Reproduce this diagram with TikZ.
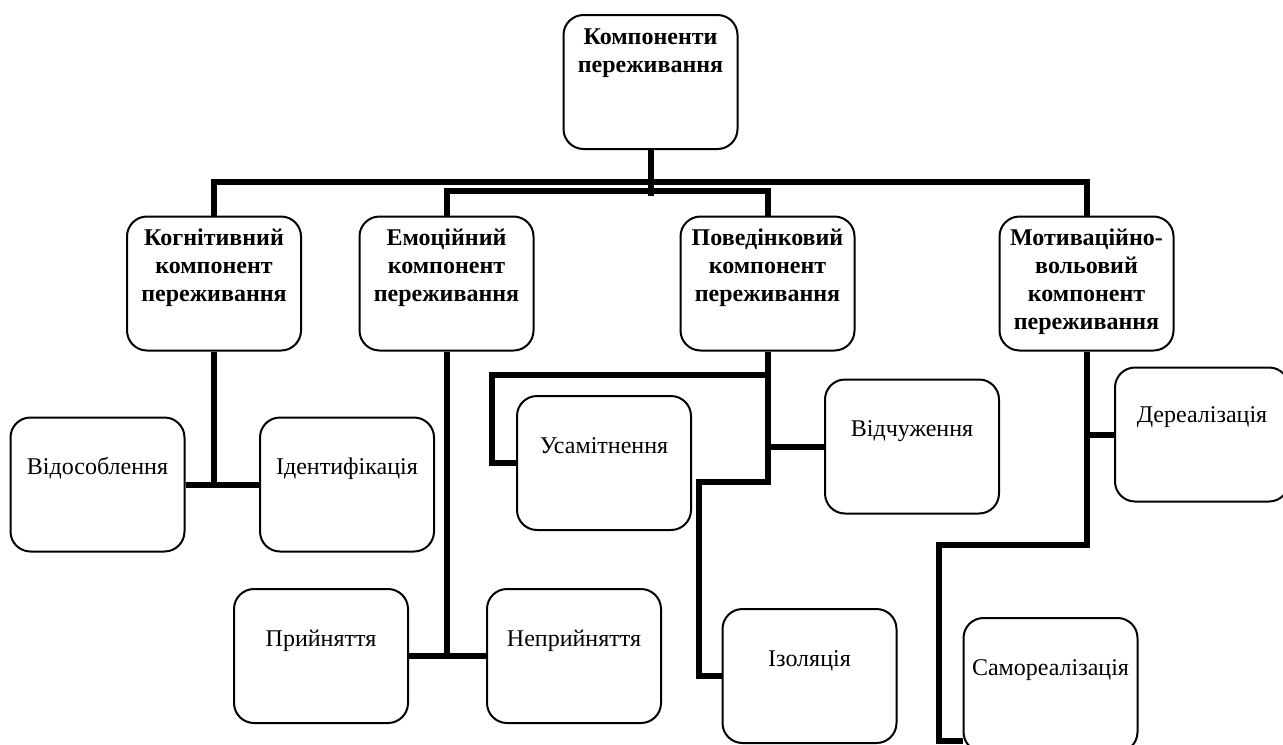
\documentclass[tikz,border=0pt]{standalone}
\usepackage{fontspec}
\setmainfont{Liberation Serif}
\usetikzlibrary{calc}
\tikzset{
    box/.style={draw,rounded corners=10pt,line width=1pt,minimum width=87pt,minimum height=67pt,inner sep=0pt},
    headtext/.style={font=\bfseries\fontsize{12}{14}\selectfont,align=center,anchor=base,inner sep=0pt},
    leaftext/.style={font=\fontsize{12}{14}\selectfont,anchor=base,inner sep=0pt},
    wide/.style={line width=3pt},
    }
\begin{document}
\begin{tikzpicture}[x=0.5pt,y=-0.5pt]
	\useasboundingbox (0,0) rectangle (1283,744);

		\node[box] (root) at (650.5,82) {};
		
		\node[box] (kog) at (214,283.5) {};
		\node[box] (emo) at (446.5,283.5) {};
		\node[box] (pov) at (767.5,283.5) {};
		\node[box] (mot) at (1086.5,283.5) {};
		
		\node[box] (vid) at (97.5,484.5) {};
		\node[box] (ide) at (347,484.5) {};
		\node[box] (pry) at (321,656) {};
		\node[box] (nepr) at (574,656) {};
		\node[box] (usa) at (604,463) {};
		\node[box] (vidch) at (912,446.5) {};
		\node[box] (izo) at (809.5,676) {};
		\node[box] (der) at (1202,434.5) {};
		\node[box] (samo) at (1050.5,685) {};
		
		\node[headtext] (roott) at ([yshift=-29pt]root.north) {Компоненти\\переживання};
		\node[headtext] (kogt) at ([yshift=-43pt]kog.north) {Когнітивний\\компонент\\переживання};
		\node[headtext] (emot) at ([yshift=-43pt]emo.north) {Емоційний\\компонент\\переживання};
		\node[headtext] (povt) at ([yshift=-43pt]pov.north) {Поведінковий\\компонент\\переживання};
		\node[headtext] (mott) at ([yshift=-57pt]mot.north) {Мотиваційно-\\вольовий\\компонент\\переживання};
		
		\node[leaftext] (vidt) at ([yshift=-29pt]vid.north) {Відособлення};
		\node[leaftext] (idet) at ([yshift=-29pt]ide.north) {Ідентифікація};
		\node[leaftext] (pryt) at ([yshift=-29pt]pry.north) {Прийняття};
		\node[leaftext] (neprt) at ([yshift=-29pt]nepr.north) {Неприйняття};
		\node[leaftext] (usat) at ([yshift=-29pt]usa.north) {Усамітнення};
		\node[leaftext] (vidcht) at ([yshift=-29pt]vidch.north) {Відчуження};
		\node[leaftext] (izot) at ([yshift=-29pt]izo.north) {Ізоляція};
		\node[leaftext] (dert) at ([yshift=-28pt]der.north) {Дереалізація};
		\node[leaftext] (samot) at ([yshift=-29pt]samo.north) {Самореалізація};
	
	\draw[wide] (root.south) -- ++(0,46);
	\draw[wide] (kog.north) -- ++(0,-34) -| (mot.north);
	\draw[wide] (emo.north) -- ++(0,-25) -| (pov.north);
	
	\draw[wide] (kog.south) -- (kog.south |- vid.east);
	\draw[wide] (vid.east) -- (ide.west);
	
	\draw[wide] (emo.south) -- (emo.south |- pry.east);
	\draw[wide] (pry.east) -- (nepr.west);
	
	\draw[wide] (pov.south) -- ++(0,130) -- ++(-69,0) |- (izo.west);
	\draw[wide] ($(pov.south)+(0,23)$) -- ++(-276,0) |- (usa.west);
	\draw[wide] (pov.south |- vidch.west) -- (vidch.west);
	
	\draw[wide] (mot.south) -- ++(0,193) -- ++(-148,0) |- ($(samo.west)+(0,56)$);
	\draw[wide] (mot.south |- der.west) -- (der.west);
    \end{tikzpicture}
\end{document}
